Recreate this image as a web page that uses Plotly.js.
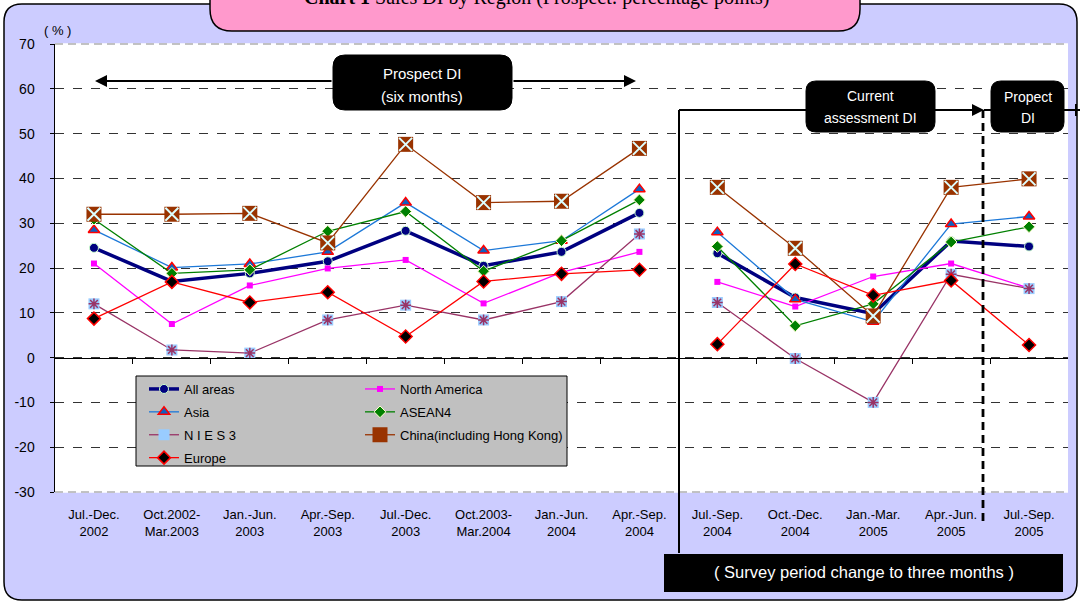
<!DOCTYPE html>
<html>
<head>
<meta charset="utf-8">
<script src="https://cdn.plot.ly/plotly-3.0.1.min.js"></script>
<style>html,body{margin:0;padding:0;background:#fff;}#chart{width:1080px;height:603px;}</style>
</head>
<body>
<div id="chart"></div>
<script>
// ---------------- DATA ----------------
const periodLine1 = ["Jul.-Dec.", "Oct.2002-", "Jan.-Jun.", "Apr.-Sep.", "Jul.-Dec.", "Oct.2003-", "Jan.-Jun.", "Apr.-Sep.", "Jul.-Sep.", "Oct.-Dec.", "Jan.-Mar.", "Apr.-Jun.", "Jul.-Sep."];
const periodLine2 = ["2002", "Mar.2003", "2003", "2003", "2003", "Mar.2004", "2004", "2004", "2004", "2004", "2005", "2005", "2005"];
const sixMonthCount = 8; // first 8 periods are six-month prospect DI; the rest are quarterly

const allAreas     = [24.5, 17.0, 18.8, 21.5, 28.3, 20.5, 23.6, 32.3, 23.3, 13.4, 9.8, 26.0, 24.8];
const northAmerica = [21.0, 7.5, 16.1, 19.9, 21.8, 12.1, 19.0, 23.6, 16.9, 11.4, 18.1, 21.0, 15.5];
const asia         = [28.5, 20.1, 20.9, 23.6, 34.6, 23.9, 26.1, 37.6, 28.0, 13.0, 8.0, 29.8, 31.5];
const asean4       = [30.9, 18.8, 19.6, 28.2, 32.6, 19.3, 26.1, 35.2, 24.8, 7.1, 12.0, 25.8, 29.2];
const nies3        = [12.0, 1.7, 1.0, 8.4, 11.7, 8.4, 12.5, 27.6, 12.3, -0.2, -10.0, 18.6, 15.4];
const china        = [32.0, 32.0, 32.2, 25.6, 47.6, 34.6, 34.9, 46.7, 38.0, 24.4, 9.3, 38.0, 39.9];
const europe       = [8.7, 16.9, 12.3, 14.6, 4.7, 17.0, 18.7, 19.6, 3.0, 20.9, 13.9, 17.2, 2.8];

const yTickVals = [-30, -20, -10, 0, 10, 20, 30, 40, 50, 60, 70];
const yTickText = ["-30", "-20", "-10", "0", "10", "20", "30", "40", "50", "60", "70"];

// ---------------- HELPERS ----------------
const categories = periodLine1.map((a, i) => a + "<br>" + periodLine2[i]);
const L = 55, R = 1068, T = 44, B = 492;
const PX = x => (x - L) / (R - L);
const PY = y => (B - y) / (B - T);

function roundRect(x0, y0, x1, y1, r) {
  const p = (x, y) => PX(x) + "," + PY(y);
  return "M" + p(x0 + r, y0) + " L" + p(x1 - r, y0) + " Q" + p(x1, y0) + " " + p(x1, y0 + r) +
    " L" + p(x1, y1 - r) + " Q" + p(x1, y1) + " " + p(x1 - r, y1) +
    " L" + p(x0 + r, y1) + " Q" + p(x0, y1) + " " + p(x0, y1 - r) +
    " L" + p(x0, y0 + r) + " Q" + p(x0, y0) + " " + p(x0 + r, y0) + " Z";
}

const traces = [];
function addSeries(name, values, lineStyle, marker, legend, extraMarker) {
  const parts = [[0, sixMonthCount], [sixMonthCount, values.length]];
  parts.forEach((rng, k) => {
    traces.push({
      type: "scatter", mode: "lines+markers", name: name,
      x: categories.slice(rng[0], rng[1]), y: values.slice(rng[0], rng[1]),
      line: lineStyle, marker: marker, legend: legend, legendgroup: name,
      showlegend: k === 0, cliponaxis: false
    });
    if (extraMarker) {
      traces.push({
        type: "scatter", mode: "markers", name: name,
        x: categories.slice(rng[0], rng[1]), y: values.slice(rng[0], rng[1]),
        marker: extraMarker, legend: legend, legendgroup: name, showlegend: false, cliponaxis: false
      });
    }
  });
}

addSeries("All areas", allAreas, {color: "#000080", width: 3.5},
  {symbol: "circle", size: 9, color: "#000080", line: {color: "#CCFFCC", width: 1}}, "legend");
addSeries("North America", northAmerica, {color: "#FF00FF", width: 1.3},
  {symbol: "square", size: 6, color: "#FF00FF", line: {color: "#FF00FF", width: 0}}, "legend2");
addSeries("Asia", asia, {color: "#1C78D8", width: 1.3},
  {symbol: "triangle-up", size: 10, color: "#1060C0", line: {color: "#FF0000", width: 1.5}}, "legend");
addSeries("ASEAN4", asean4, {color: "#008000", width: 1.3},
  {symbol: "diamond", size: 9, color: "#008000", line: {color: "#FFFFCC", width: 1}}, "legend2");
addSeries("N I E S 3", nies3, {color: "#993366", width: 1.3},
  {symbol: "square", size: 11, color: "#99CCFF", line: {width: 0}}, "legend",
  {symbol: "asterisk-open", size: 9, color: "#993366", line: {color: "#993366", width: 1.5}});
addSeries("China(including Hong Kong)", china, {color: "#993300", width: 1.3},
  {symbol: "square", size: 15, color: "#993300", line: {width: 0}}, "legend2",
  {symbol: "x-thin-open", size: 13, color: "#DDFFFF", line: {color: "#DDFFFF", width: 2}});
addSeries("Europe", europe, {color: "#FF0000", width: 1.3},
  {symbol: "diamond", size: 10, color: "#000000", line: {color: "#FF0000", width: 1.5}}, "legend");

// invisible anchor trace for the category-boundary tick axis (crosses at y = 0)
const boundaryTicks = [];
for (let i = 0; i < categories.length - 1; i++) boundaryTicks.push(i + 0.5);
traces.push({type: "scatter", mode: "markers", x: [0], y: [0], xaxis: "x2", yaxis: "y",
  marker: {opacity: 0}, showlegend: false, hoverinfo: "skip"});

const sansFont = "Liberation Sans, Arial, sans-serif";

const shapes = [
  {type: "path", xref: "paper", yref: "paper", layer: "below", path: roundRect(4, 4, 1077, 600, 18),
    fillcolor: "#CCCCFF", line: {color: "#000", width: 1.5}},
  {type: "rect", xref: "paper", yref: "paper", layer: "below", x0: 0, x1: 1, y0: 0, y1: 1,
    fillcolor: "#FFFFFF", line: {width: 0}},
  // light plot border at top and bottom
  {type: "line", xref: "paper", yref: "paper", x0: 0, x1: 1, y0: 1, y1: 1, line: {color: "#FFFFFF", width: 1.5}},
  {type: "line", xref: "paper", yref: "paper", x0: 0, x1: 1, y0: 0, y1: 0, line: {color: "#FFFFFF", width: 1.5}},
  {type: "line", xref: "paper", yref: "paper", x0: 0, x1: 1, y0: 1, y1: 1, line: {color: "#B0B0B0", width: 1.5, dash: "8px,5px"}},
  {type: "line", xref: "paper", yref: "paper", x0: 0, x1: 1, y0: 0, y1: 0, line: {color: "#B0B0B0", width: 1.5, dash: "8px,5px"}},
  // title box
  {type: "path", xref: "paper", yref: "paper", path: roundRect(210, -40, 860, 31, 22),
    fillcolor: "#FF99CC", line: {color: "#000", width: 1.5}},
  // connector lines
  {type: "line", xref: "paper", yref: "paper", x0: PX(679), x1: PX(679), y0: PY(110), y1: PY(553), line: {color: "#000", width: 2}},
  {type: "line", xref: "paper", yref: "paper", x0: PX(679), x1: PX(975), y0: PY(110), y1: PY(110), line: {color: "#000", width: 2}},
  {type: "line", xref: "paper", yref: "paper", x0: PX(984), x1: PX(1082), y0: PY(110), y1: PY(110), line: {color: "#000", width: 2}},
  {type: "line", xref: "paper", yref: "paper", x0: PX(1076), x1: PX(1076), y0: PY(104), y1: PY(116), line: {color: "#000", width: 2}},
  {type: "line", xref: "paper", yref: "paper", x0: PX(983), x1: PX(983), y0: PY(110), y1: PY(526), line: {color: "#000", width: 2.8, dash: "8px,5px"}},
  // black boxes
  {type: "path", xref: "paper", yref: "paper", path: roundRect(333, 55, 512, 110, 12), fillcolor: "#000", line: {color: "#000", width: 1}},
  {type: "path", xref: "paper", yref: "paper", path: roundRect(806, 81, 935, 132, 10), fillcolor: "#000", line: {color: "#000", width: 1}},
  {type: "path", xref: "paper", yref: "paper", path: roundRect(991, 81, 1064, 132, 10), fillcolor: "#000", line: {color: "#000", width: 1}},
  {type: "rect", xref: "paper", yref: "paper", x0: PX(664), x1: PX(1063), y0: PY(554), y1: PY(592), fillcolor: "#000", line: {width: 0}},
  // legend box
  {type: "rect", xref: "paper", yref: "paper", x0: PX(136), x1: PX(567), y0: PY(376), y1: PY(466),
    fillcolor: "#C0C0C0", line: {color: "#000", width: 1}}
];

function txt(s, x, y, size, color, extra) {
  return Object.assign({xref: "paper", yref: "paper", x: PX(x), y: PY(y), text: s, showarrow: false,
    xanchor: "center", yanchor: "middle", font: {family: sansFont, size: size, color: color}}, extra || {});
}

const annotations = [
  txt("<b>Chart 1</b> Sales DI by Region (Prospect: percentage points)", 536, -3, 20, "#000",
    {font: {family: "Liberation Serif, Times New Roman, serif", size: 20, color: "#000"}}),
  txt("( % )", 57, 31, 13, "#000"),
  txt("Prospect DI", 422, 73, 15, "#fff"),
  txt("(six months)", 422, 96, 15, "#fff"),
  txt("Current", 870, 96, 14, "#fff"),
  txt("assessment DI", 870, 118, 14, "#fff"),
  txt("Propect", 1028, 97, 14, "#fff"),
  txt("DI", 1028, 118, 14, "#fff"),
  txt("( Survey period change to three months )", 864, 572, 16.5, "#fff"),
  // arrows
  {xref: "paper", yref: "paper", x: PX(95), y: PY(81), ax: 333 - 95, ay: 0, text: "", showarrow: true,
    arrowhead: 2, arrowsize: 1.2, arrowwidth: 2, arrowcolor: "#000", standoff: 0},
  {xref: "paper", yref: "paper", x: PX(636), y: PY(81), ax: 512 - 636, ay: 0, text: "", showarrow: true,
    arrowhead: 2, arrowsize: 1.2, arrowwidth: 2, arrowcolor: "#000", standoff: 0},
  {xref: "paper", yref: "paper", x: PX(984), y: PY(110), ax: -20, ay: 0, text: "", showarrow: true,
    arrowhead: 2, arrowsize: 1.2, arrowwidth: 2, arrowcolor: "#000", standoff: 0}
];

const layout = {
  width: 1080, height: 603,
  margin: {l: L, r: 1080 - R, t: T, b: 603 - B, pad: 0},
  paper_bgcolor: "#FFFFFF", plot_bgcolor: "rgba(0,0,0,0)",
  showlegend: true, hovermode: false,
  font: {family: sansFont, color: "#000"},
  xaxis: {
    type: "category", categoryorder: "array", categoryarray: categories,
    range: [-0.5, categories.length - 0.5], showgrid: false, zeroline: false, showline: false,
    ticks: "", ticklabelstandoff: 13,
    tickfont: {family: sansFont, size: 13, color: "#000"}
  },
  xaxis2: {
    overlaying: "x", anchor: "free", position: 0.3, range: [-0.5, categories.length - 0.5],
    tickmode: "array", tickvals: boundaryTicks, showticklabels: false, ticks: "outside", ticklen: 5,
    tickcolor: "#000", tickwidth: 1, showline: true, linecolor: "#000", linewidth: 1.5, showgrid: false, zeroline: false
  },
  yaxis: {
    range: [-30, 70], tickmode: "array", tickvals: yTickVals, ticktext: yTickText,
    showgrid: true, gridcolor: "#333333", griddash: "dash", gridwidth: 1, zeroline: false,
    showline: true, linecolor: "#000", linewidth: 1.5, ticks: "outside", ticklen: 4, tickcolor: "#000",
    ticklabelstandoff: 12, tickfont: {family: sansFont, size: 14, color: "#000"}
  },
  legend: {x: PX(144), y: PY(374), xanchor: "left", yanchor: "top", bgcolor: "rgba(0,0,0,0)",
    borderwidth: 0, font: {family: sansFont, size: 13, color: "#000"}, traceorder: "grouped", tracegroupgap: 3},
  legend2: {x: PX(360), y: PY(374), xanchor: "left", yanchor: "top", bgcolor: "rgba(0,0,0,0)",
    borderwidth: 0, font: {family: sansFont, size: 13, color: "#000"}, traceorder: "grouped", tracegroupgap: 3},
  shapes: shapes,
  annotations: annotations
};

Plotly.newPlot("chart", traces, layout, {staticPlot: true, displayModeBar: false});
</script>
</body>
</html>
